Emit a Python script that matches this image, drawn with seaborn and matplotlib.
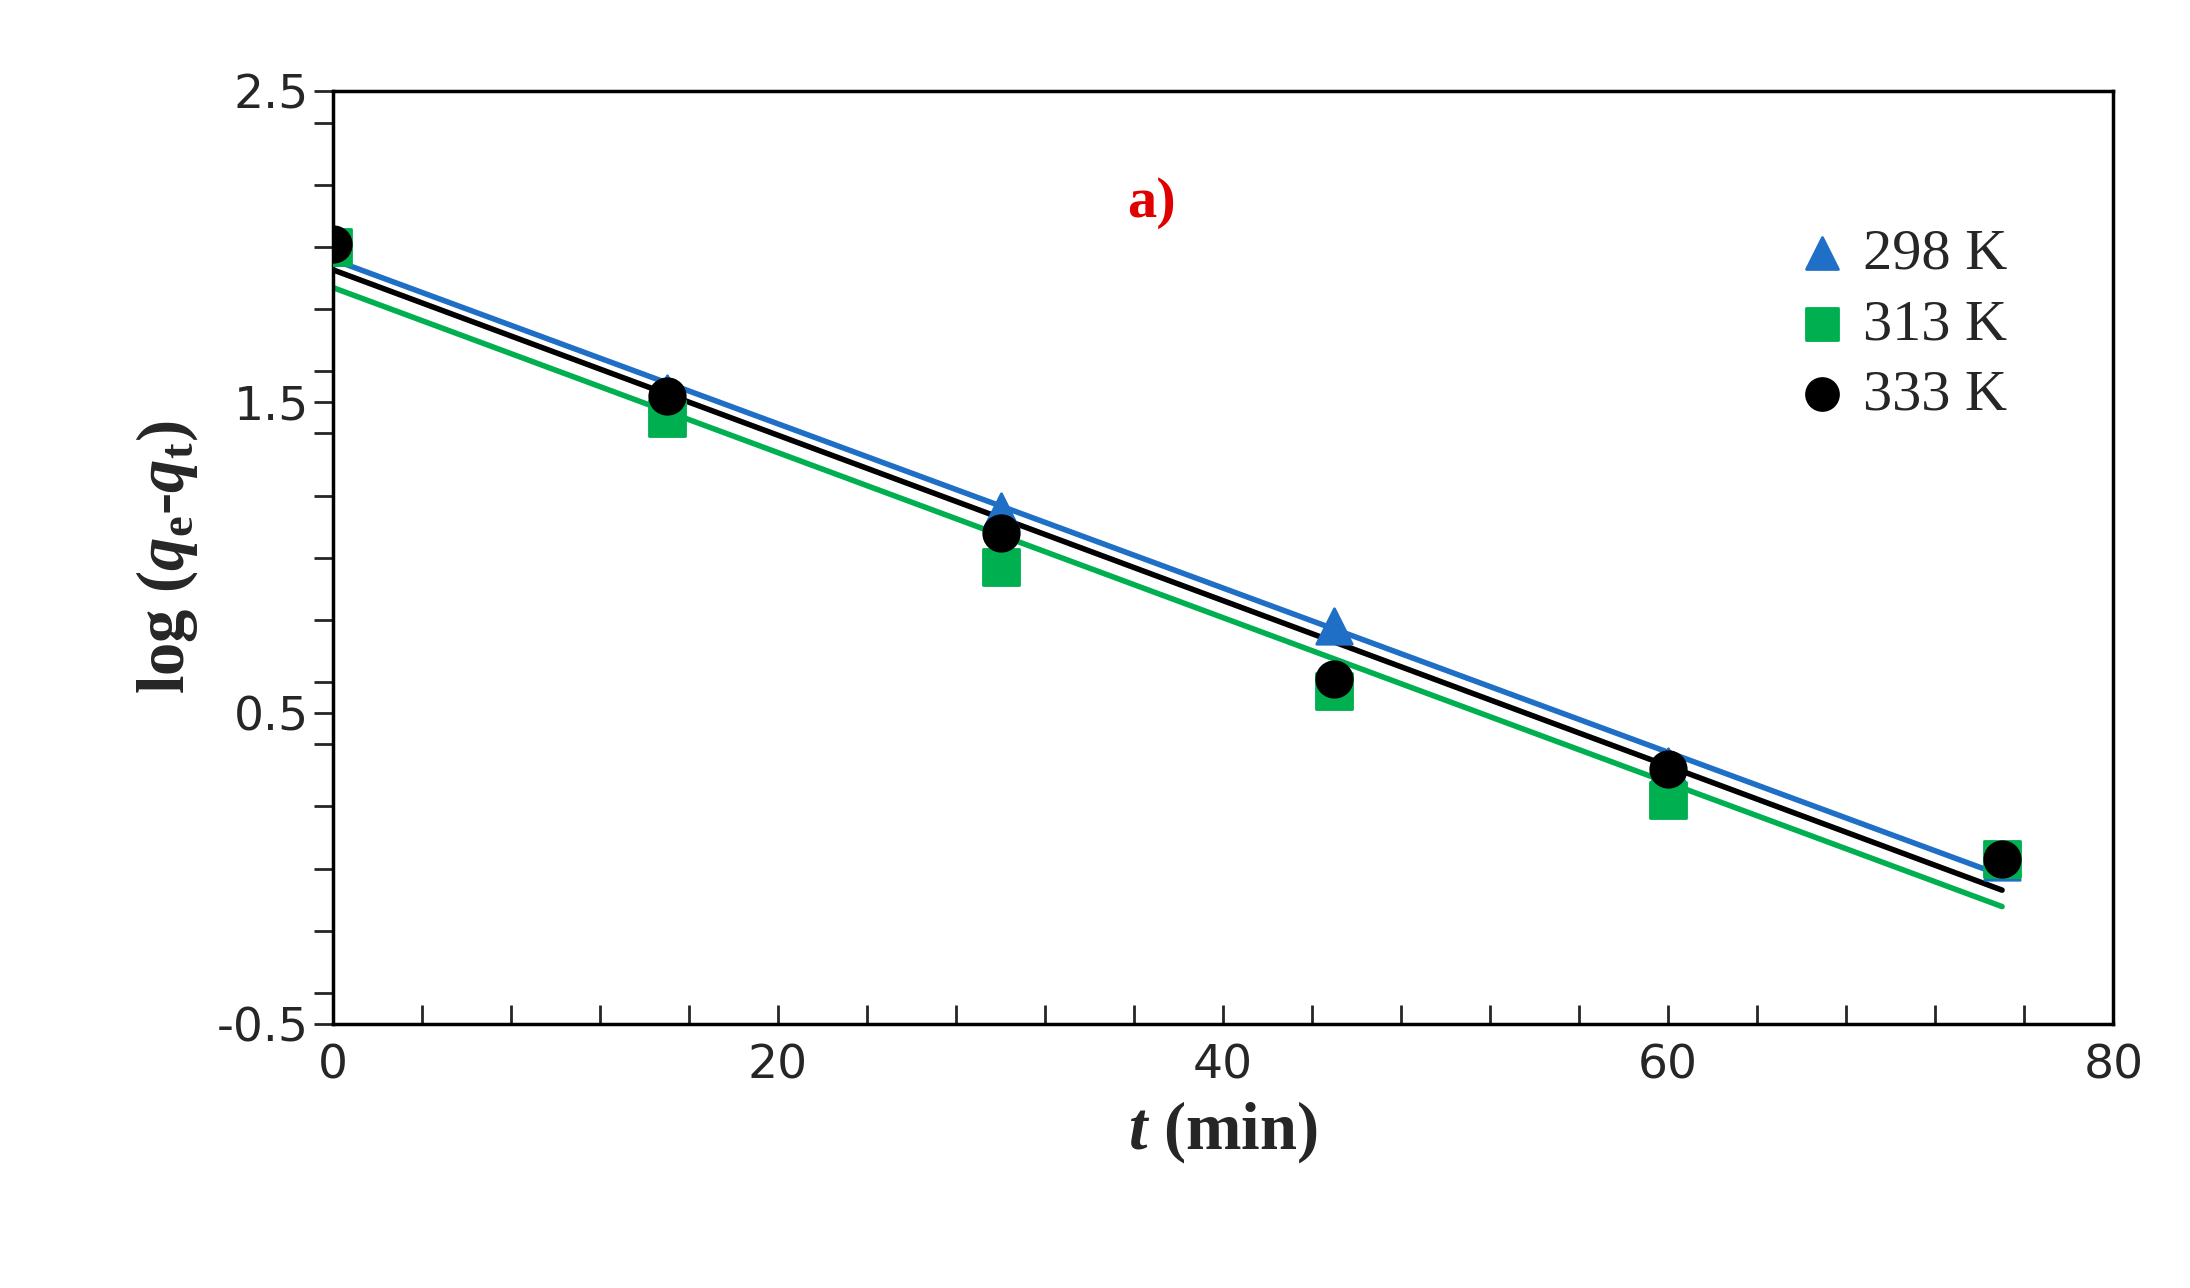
import numpy as np
import pandas as pd
import seaborn as sns
import matplotlib.pyplot as plt
from matplotlib.ticker import MultipleLocator

# Pseudo-first-order kinetics data
t = [0, 15, 30, 45, 60, 75]
y_298 = [2.00, 1.53, 1.15, 0.78, 0.33, 0.02]
y_313 = [2.00, 1.45, 0.97, 0.57, 0.22, 0.03]
y_333 = [2.01, 1.52, 1.08, 0.61, 0.32, 0.03]
labels = ['298 K', '313 K', '333 K']
colors = ['#1f6fc6', '#00b050', '#000000']
markers = ['^', 's', 'o']

sns.set_theme(style='white')
serif = 'Liberation Serif'
plt.rcParams['mathtext.fontset'] = 'custom'
plt.rcParams['mathtext.rm'] = serif + ':bold'
plt.rcParams['mathtext.it'] = serif + ':italic:bold'
plt.rcParams['mathtext.bf'] = serif + ':bold'

fig = plt.figure(figsize=(21.9, 12.88), dpi=100)
ax = fig.add_axes([0.152, 0.205, 0.813, 0.724])

for ys, lab, c, m in zip([y_298, y_313, y_333], labels, colors, markers):
    df = pd.DataFrame({'t': t, 'y': ys})
    slope, icpt = np.polyfit(df['t'], df['y'], 1)
    fit = pd.DataFrame({'t': [0, 75]})
    fit['y'] = slope * fit['t'] + icpt
    sns.lineplot(data=fit, x='t', y='y', color=c, lw=4, ax=ax)
    sns.scatterplot(data=df, x='t', y='y', color=c, marker=m, s=650,
                    edgecolor=c, label=lab, ax=ax, zorder=3)

ax.set_xlim(0, 80)
ax.set_ylim(-0.5, 2.5)
ax.xaxis.set_major_locator(MultipleLocator(20))
ax.xaxis.set_minor_locator(MultipleLocator(4))
ax.yaxis.set_minor_locator(MultipleLocator(0.2))
ax.set_yticks([-0.5, 0.5, 1.5, 2.5])
ax.set_yticklabels(['-0.5', '0.5', '1.5', '2.5'])
ax.tick_params(axis='x', which='both', direction='in', bottom=True, length=14, width=2, labelsize=34, pad=14)
ax.tick_params(axis='y', which='both', direction='out', left=True, length=14, width=2, labelsize=34)
for s in ax.spines.values():
    s.set_color('black')
    s.set_linewidth(2.5)

ax.set_xlabel(r'$t$ (min)', fontsize=48, fontweight='bold', family=serif, labelpad=8)
ax.set_ylabel(r'log ($q_{\mathrm{e}}$-$q_{\mathrm{t}}$)', fontsize=48, fontweight='bold',
              family=serif, labelpad=12)

ax.text(0.46, 0.88, 'a)', transform=ax.transAxes, color='#e00000', fontsize=42,
        fontweight='bold', family=serif, ha='center', va='center')

ax.legend(loc='upper right', bbox_to_anchor=(0.97, 0.91), frameon=False,
          prop={'family': serif, 'size': 42}, handletextpad=-0.3,
          labelspacing=0.3, markerscale=0.9)

fig.savefig('out.png', dpi=100)
